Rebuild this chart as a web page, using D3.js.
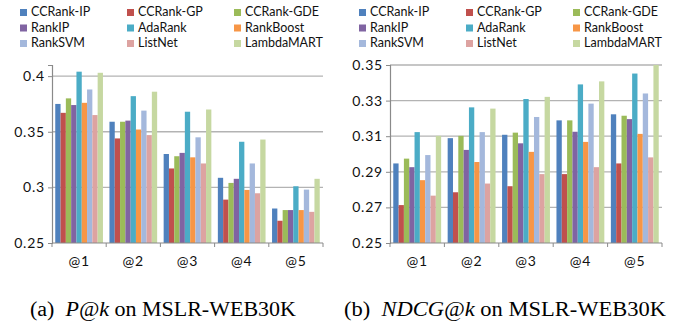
<!DOCTYPE html>
<meta charset="utf-8">
<script src="https://d3js.org/d3.v7.min.js"></script>
<style>
body { margin: 0; background: #fff; }
svg { display: block; }
</style>
<div id="my_dataviz"></div>
<script>

// data
var methods = ["CCRank-IP", "CCRank-GP", "CCRank-GDE", "RankIP", "AdaRank", "RankBoost", "RankSVM", "ListNet", "LambdaMART"];
var colors = ["#4f81bd", "#c0504d", "#9bbb59", "#8064a2", "#4bacc6", "#f79646", "#a4b8dc", "#dda3a1", "#c6d8a1"];
var cutoffs = ["@1", "@2", "@3", "@4", "@5"];

var precision = [
  [0.375, 0.359, 0.330, 0.3086, 0.281],   // CCRank-IP
  [0.367, 0.344, 0.317, 0.289, 0.270],    // CCRank-GP
  [0.380, 0.359, 0.328, 0.304, 0.2796],   // CCRank-GDE
  [0.374, 0.360, 0.331, 0.3077, 0.2796],  // RankIP
  [0.404, 0.382, 0.368, 0.341, 0.301],    // AdaRank
  [0.376, 0.352, 0.327, 0.2977, 0.2796],  // RankBoost
  [0.388, 0.369, 0.345, 0.3215, 0.298],   // RankSVM
  [0.365, 0.347, 0.3215, 0.2947, 0.278],  // ListNet
  [0.403, 0.386, 0.370, 0.343, 0.3077]    // LambdaMART
];
var ndcg = [
  [0.2947, 0.3089, 0.3108, 0.3189, 0.3223],
  [0.2713, 0.2785, 0.2819, 0.2887, 0.2947],
  [0.2974, 0.3102, 0.3120, 0.3189, 0.3215],
  [0.2926, 0.3023, 0.3060, 0.3125, 0.3196],
  [0.3123, 0.3262, 0.3309, 0.3391, 0.3452],
  [0.2853, 0.2955, 0.3012, 0.3068, 0.3113],
  [0.2994, 0.3123, 0.3208, 0.3283, 0.3340],
  [0.2766, 0.2834, 0.2887, 0.2926, 0.2981],
  [0.3102, 0.3255, 0.3321, 0.3408, 0.3500]
];
var precisionTicks = [0.25, 0.3, 0.35, 0.4];
var ndcgTicks = [0.25, 0.27, 0.29, 0.31, 0.33, 0.35];

var svg = d3.select("#my_dataviz")
  .append("svg")
    .attr("width", 688)
    .attr("height", 328);

function drawPanel(opts) {
  var g = svg.append("g");
  var x0 = d3.scaleBand().domain(cutoffs).range([opts.left, opts.right])
    .paddingInner(0.12).paddingOuter(0.06);
  var x1 = d3.scaleBand().domain(methods).range([0, x0.bandwidth()]);
  var y = d3.scaleLinear().domain(opts.domain).range([243, 65]);

  // gridlines
  g.selectAll(".grid")
    .data(opts.ticks.slice(1))
    .enter().append("line")
      .attr("x1", opts.left).attr("x2", opts.right)
      .attr("y1", function(d) { return y(d); })
      .attr("y2", function(d) { return y(d); })
      .attr("stroke", "#b3b3b3")
      .attr("stroke-width", 1.3);

  // bars
  methods.forEach(function(m, i) {
    g.selectAll(".bar" + i)
      .data(opts.values[i])
      .enter().append("rect")
        .attr("x", function(d, j) { return x0(cutoffs[j]) + x1(m); })
        .attr("y", function(d) { return y(d); })
        .attr("width", x1.bandwidth())
        .attr("height", function(d) { return y(opts.domain[0]) - y(d); })
        .attr("fill", colors[i]);
  });

  // y axis
  var ya = g.append("g")
    .attr("transform", "translate(" + opts.left + ",0)")
    .call(d3.axisLeft(y).tickValues(opts.ticks).tickSize(4).tickPadding(3)
      .tickFormat(function(d) { return String(+d.toFixed(2)); }));
  ya.select(".domain").attr("stroke", "#8a8a8a").attr("stroke-width", 1.2);
  ya.selectAll(".tick line").attr("stroke", "#8a8a8a");
  ya.selectAll("text")
    .attr("fill", "#111")
    .style("font-family", "Lato")
    .style("font-size", "14px")
    .style("letter-spacing", "0.8px");

  // x axis
  var xa = g.append("g").attr("transform", "translate(0,243)");
  xa.append("line").attr("x1", opts.left).attr("x2", opts.right)
    .attr("stroke", "#8a8a8a").attr("stroke-width", 1.2);
  var bounds = cutoffs.map(function(c) { return x0(c) - x0.step() * x0.paddingInner() / 2; });
  bounds.push(opts.right);
  xa.selectAll(".xt").data(bounds).enter().append("line")
    .attr("x1", function(d) { return d; }).attr("x2", function(d) { return d; })
    .attr("y1", 0).attr("y2", 4)
    .attr("stroke", "#8a8a8a");
  xa.selectAll(".xl").data(cutoffs).enter().append("text")
    .attr("x", function(d) { return x0(d) + x0.bandwidth() / 2; })
    .attr("y", 23)
    .attr("text-anchor", "middle")
    .attr("fill", "#111")
    .style("font-family", "Lato")
    .style("font-size", "14px")
    .style("letter-spacing", "0.8px")
    .text(function(d) { return d; });

  // legend, three columns
  var leg = g.selectAll(".leg").data(methods).enter().append("g")
    .attr("transform", function(d, i) {
      return "translate(" + (opts.legendX + (i % 3) * 107) + "," + (16 + Math.floor(i / 3) * 15.5) + ")";
    });
  leg.append("rect").attr("x", 0).attr("y", -7).attr("width", 7).attr("height", 7)
    .attr("fill", function(d, i) { return colors[i]; });
  leg.append("text").attr("x", 11).attr("y", 0)
    .attr("fill", "#111")
    .style("font-family", "Lato")
    .style("font-size", "12.5px")
    .text(function(d) { return d; });

  // caption
  var cap = svg.append("text")
    .attr("x", opts.capX).attr("y", 316)
    .attr("text-anchor", "middle")
    .attr("textLength", opts.capWidth)
    .attr("lengthAdjust", "spacingAndGlyphs")
    .style("font-family", "Liberation Serif")
    .style("font-size", "20px")
    .attr("fill", "#000");
  cap.append("tspan").text(opts.capLabel + "\u00a0 ");
  cap.append("tspan").style("font-style", "italic").text(opts.capMetric);
  cap.append("tspan").text(" on MSLR-WEB30K");
}

drawPanel({ left: 52, right: 323, domain: [0.25, 0.41], ticks: precisionTicks,
  values: precision, legendX: 20, capX: 163, capWidth: 266,
  capLabel: "(a)", capMetric: "P@k" });
drawPanel({ left: 390, right: 662, domain: [0.25, 0.35], ticks: ndcgTicks,
  values: ndcg, legendX: 359, capX: 505, capWidth: 322,
  capLabel: "(b)", capMetric: "NDCG@k" });

</script>
